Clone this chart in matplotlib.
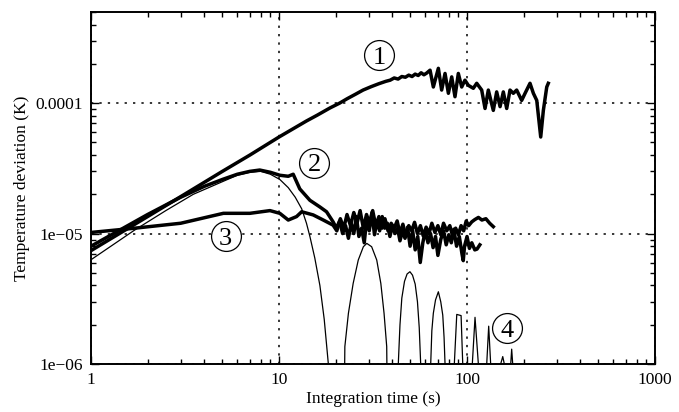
import matplotlib
matplotlib.use("Agg")
import matplotlib.pyplot as plt
from matplotlib.ticker import NullFormatter

plt.rcParams['font.family'] = ['Liberation Serif', 'DejaVu Serif']

# curve 1: rises steadily, then noisy plateau
t1 = [1, 2, 3, 5, 7, 10, 14, 16, 18.7, 21, 23, 25.5, 28, 31, 34, 37, 39, 41, 43, 45, 47, 49, 51, 53,
      55, 57, 59, 61,
      63.6, 66.2, 70.4, 73.3, 76.4, 79.6, 82.9, 86.3, 89.9, 93.7, 97.5, 101.6, 108, 112.6, 119.7,
      124.7, 129.8, 138, 143.8, 149.9, 156, 162.6, 169.3, 176.3, 183.7, 195.3, 203.6, 216.3, 225.4,
      234.9, 246.6, 254.7, 265.5, 270.6]
s1 = [7.4e-6, 1.35e-5, 1.92e-5, 3.0e-5, 4.0e-5, 5.5e-5, 7.3e-5, 8.1e-5, 9.2e-5, 1.0e-4, 1.08e-4,
      1.17e-4, 1.26e-4, 1.34e-4, 1.41e-4, 1.47e-4, 1.5e-4, 1.56e-4, 1.53e-4, 1.6e-4, 1.58e-4, 1.64e-4,
      1.6e-4, 1.67e-4, 1.63e-4, 1.71e-4, 1.65e-4, 1.7e-4,
      1.79e-4, 1.33e-4, 1.85e-4, 1.26e-4, 1.69e-4, 1.19e-4, 1.59e-4, 1.12e-4, 1.69e-4, 1.33e-4,
      1.5e-4, 1.37e-4, 1.3e-4, 1.42e-4, 1.26e-4, 9.1e-5, 1.26e-4, 8.8e-5, 1.22e-4, 9.4e-5, 1.22e-4,
      9.1e-5, 1.26e-4, 1.19e-4, 1.26e-4, 1.05e-4, 1.19e-4, 1.42e-4, 1.19e-4, 1.05e-4, 5.5e-5, 8.8e-5,
      1.33e-4, 1.42e-4]

# curve 2: hump near 8 s then noise around 1e-5
t2 = [1, 2, 3, 4, 5, 6, 7, 7.9, 9, 10.1, 11.2, 11.9, 12.9, 14.6, 16.5, 17.9,
      19.4, 20.2, 21, 21.8, 22.6, 23.4, 24.2, 25, 25.8, 26.6, 27.5, 28.4, 29.3, 30.2, 31.2,
      32.2, 33.2, 34.3, 35.4, 36.5, 37.7, 38.9, 40.1, 41.4, 42.7, 44, 45.4, 46.8, 48.3, 49.8,
      51.4, 53, 54.7, 56.4, 58.2, 60, 62, 64, 66, 68, 70, 72.5, 75, 77.5, 80,
      82.5, 85, 88, 91, 94, 95.5, 97, 100, 103, 106, 110, 113, 117]
s2 = [8.0e-6, 1.4e-5, 1.9e-5, 2.3e-5, 2.6e-5, 2.85e-5, 3.0e-5, 3.07e-5, 2.95e-5, 2.8e-5, 2.75e-5, 2.85e-5,
      2.2e-5, 1.8e-5, 1.6e-5, 1.47e-5,
      1.23e-5, 1.1e-5, 1.25e-5, 1.0e-5, 1.15e-5, 9.2e-6, 1.2e-5, 1.0e-5, 1.35e-5, 9.5e-6,
      1.1e-5, 8.5e-6, 1.3e-5, 1.05e-5, 1.45e-5, 9.8e-6, 1.25e-5, 1.05e-5, 1.35e-5, 1.1e-5,
      1.2e-5, 9.5e-6, 1.15e-5, 1.0e-5, 1.1e-5, 8.8e-6, 1.05e-5, 9.2e-6, 1.12e-5, 8.0e-6,
      1.05e-5, 7.5e-6, 9.5e-6, 6.0e-6, 8.5e-6, 1.05e-5, 8.5e-6, 1.0e-5, 7.8e-6, 9.5e-6,
      6.8e-6, 9.0e-6, 1.05e-5, 8.2e-6, 9.8e-6, 8.5e-6, 1.08e-5, 8.0e-6, 9.5e-6, 7.0e-6,
      6.2e-6, 8.0e-6, 9.5e-6, 7.7e-6, 8.5e-6, 7.5e-6, 7.6e-6, 8.2e-6]

# curve 3: nearly flat around 1e-5
t3 = [1, 1.71, 3.0, 5.06, 7.0, 8.95, 10.1, 11.2, 12.4, 13.2, 15.2, 17.2,
      19.4, 20.3, 21.2, 22.1, 23, 24, 25, 26, 27, 28.1, 29.2, 30.3, 31.5, 32.7, 34,
      35.3, 36.6, 38, 39.5, 41, 42.5, 44, 45.6, 47.3, 49, 50.8, 52.6, 54.5, 56.5, 58.5,
      60.6, 62.8, 65, 67.5, 70, 72.5, 75, 78, 81, 84, 87, 90, 93, 96, 99,
      102, 106, 110, 115, 120, 126, 132, 138]
s3 = [1.02e-5, 1.1e-5, 1.2e-5, 1.43e-5, 1.43e-5, 1.5e-5, 1.43e-5, 1.27e-5, 1.35e-5, 1.47e-5, 1.39e-5,
      1.27e-5,
      1.16e-5, 1.05e-5, 1.3e-5, 1.1e-5, 1.4e-5, 1.15e-5, 1.45e-5, 1.2e-5, 1.5e-5, 1.1e-5,
      1.4e-5, 1.2e-5, 1.5e-5, 1.15e-5, 1.35e-5, 1.1e-5, 1.3e-5, 1.05e-5, 1.2e-5, 1.1e-5,
      1.25e-5, 1.0e-5, 1.18e-5, 9.5e-6, 1.15e-5, 1.05e-5, 1.22e-5, 1.0e-5, 1.15e-5, 9.6e-6,
      1.12e-5, 1.0e-5, 1.2e-5, 1.02e-5, 1.15e-5, 9.8e-6, 1.2e-5, 1.05e-5, 1.15e-5, 9.5e-6,
      1.1e-5, 9.8e-6, 1.15e-5, 1.05e-5, 1.25e-5, 1.15e-5, 1.23e-5, 1.28e-5, 1.33e-5, 1.27e-5,
      1.3e-5, 1.2e-5, 1.13e-5]

# curve 4 (thin): single hump then decaying lobes
t4 = [1, 1.7, 2.5, 3.5, 5, 6, 7, 8, 9, 10.1, 11.2, 12.2, 13.2, 14.0, 14.6, 15.5, 16.5, 17.4, 18.3,
      18.8, 19.5,
      22.0, 22.4, 23.4, 24.8, 26.4, 28.1, 29.3, 31.1, 33.1, 34.8, 36.2, 37.4, 38.1, 40,
      43.1, 44.0, 45.0, 46.5, 48.0, 49.7, 51.3, 53.0, 54.5, 55.7, 56.7, 60,
      64.1, 65.0, 66.2, 68.0, 70.4, 72.5, 74.3, 75.5, 76.4, 80,
      85.6, 88.2, 93.0, 94.9, 100,
      106.7, 110.3, 114.9, 120,
      127.3, 130.4, 133.6, 142,
      151, 154.9, 157.9, 164,
      170.8, 172.8, 175, 180]
s4 = [6.3e-6, 1.06e-5, 1.5e-5, 2.0e-5, 2.5e-5, 2.8e-5, 2.95e-5, 3.0e-5, 2.85e-5, 2.6e-5, 2.25e-5,
      1.9e-5, 1.55e-5, 1.2e-5, 9.5e-6, 6.5e-6, 4.0e-6, 2.2e-6, 1e-6, 4e-7, 1e-8,
      1e-7, 1.36e-6, 2.45e-6, 4.15e-6, 6.27e-6, 7.93e-6, 8.41e-6, 7.93e-6, 6.27e-6, 4.15e-6, 2.45e-6,
      1.36e-6, 1e-7, 1e-8,
      1e-6, 2.0e-6, 3.2e-6, 4.3e-6, 4.9e-6, 5.1e-6, 4.8e-6, 4.1e-6, 3.0e-6, 1.9e-6, 1e-6, 1e-8,
      1e-6, 1.8e-6, 2.45e-6, 3.1e-6, 3.58e-6, 3.0e-6, 2.37e-6, 1.6e-6, 1e-6, 1e-8,
      1e-6, 2.4e-6, 2.35e-6, 1e-6, 1e-8,
      1e-6, 2.28e-6, 1e-6, 1e-8,
      1e-6, 1.95e-6, 1e-6, 1e-8,
      1e-6, 1.14e-6, 1e-6, 1e-8,
      1e-6, 1.3e-6, 1e-6, 1e-8]

xticks = [1, 10, 100, 1000]
xlabels = ['1', '10', '100', '1000']
yticks = [1e-6, 1e-5, 1e-4]
ylabels = ['1e\u221206', '1e\u221205', '0.0001']

labels = ['1', '2', '3', '4']
label_x = [34.2, 15.4, 5.2, 162.6]
label_y = [2.33e-4, 3.48e-5, 9.5e-6, 1.88e-6]

fig = plt.figure(figsize=(6.79, 4.12), dpi=100)
ax = fig.add_axes([0.134, 0.1165, 0.8307, 0.8544])

ax.plot(t4, s4, color='k', lw=0.9)
ax.plot(t3, s3, color='k', lw=2.5)
ax.plot(t2, s2, color='k', lw=2.5)
ax.plot(t1, s1, color='k', lw=2.5)

ax.set_xscale('log')
ax.set_yscale('log')
ax.set_xlim(1, 1000)
ax.set_ylim(1e-6, 5e-4)

ax.set_xticks(xticks, xlabels)
ax.set_yticks(yticks, ylabels)
ax.xaxis.set_minor_formatter(NullFormatter())
ax.yaxis.set_minor_formatter(NullFormatter())
ax.tick_params(which='both', direction='in', top=True, right=True, labelsize=12.5, pad=6)
ax.tick_params(which='major', length=6, width=1)
ax.tick_params(which='minor', length=3.5, width=1)
for sp in ax.spines.values():
    sp.set_linewidth(1.4)

ax.grid(True, which='major', color='k', linestyle=(0, (1.5, 4)), linewidth=1.1)

ax.set_xlabel('Integration time (s)', fontsize=12.5, labelpad=2)
ax.set_ylabel('Temperature deviation (K)', fontsize=12.5, labelpad=4)

# circled curve numbers
ax.plot(label_x, label_y, 'o', ms=21.5, mfc='white', mec='k', mew=0.9, ls='none', zorder=5)
for lab, lx, ly in zip(labels, label_x, label_y):
    ax.text(lx, ly, lab, ha='center', va='center_baseline', fontsize=19, zorder=6)

fig.savefig('out.png', dpi=100)
